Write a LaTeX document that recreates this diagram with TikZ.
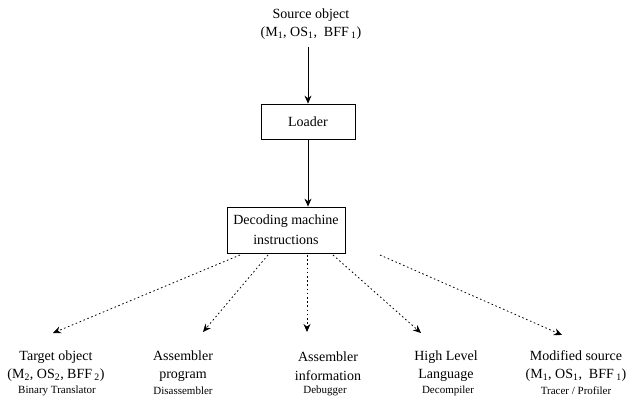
\documentclass[tikz,border=0pt]{standalone}
\usepackage{fontspec}
\setmainfont{Liberation Serif}
\usetikzlibrary{arrows.meta}
\begin{document}
\begin{tikzpicture}[x=1pt,y=-1pt,
  lbl/.style={inner sep=0pt,align=center,font=\fontsize{14}{18.5}\selectfont},
  tool/.style={inner sep=0pt,align=center,font=\fontsize{11}{12}\selectfont},
  boxnode/.style={draw,line width=0.8pt,inner sep=0pt,align=center,font=\fontsize{14}{20}\selectfont},
  solidarrow/.style={line width=0.8pt,-{Stealth[length=8pt,width=7pt]}},
  dotarrow/.style={line width=0.8pt,dash pattern=on 1.6pt off 2.6pt,-{Stealth[length=8pt,width=7pt]}}]
\useasboundingbox (0,0) rectangle (634,403);
\fill[white] (0,0) rectangle (634,403);
% source
\node[lbl] (src) at (311,24) {Source object\\(M\textsubscript{1}, OS\textsubscript{1},\ \ BFF\,\textsubscript{1})};
\node[boxnode,minimum width=94pt,minimum height=35pt] (loader) at (308,121.5) {Loader};
\node[boxnode,minimum width=118pt,minimum height=46pt] (dec) at (286,230) {Decoding machine\\instructions};
\coordinate (s0) at (308,47);
\draw[solidarrow] (s0) -- (loader.north -| s0);
\draw[solidarrow] (loader.south -| s0) -- (dec.north -| s0);
% bottom labels
\node[lbl] (t1) at (56,366) {Target object\\(M\textsubscript{2}, OS\textsubscript{2}, BFF\,\textsubscript{2})};
\node[tool] (u1) at (57,391) {Binary Translator};
\node[lbl] (t2) at (183,366) {Assembler\\program};
\node[tool] (u2) at (183,391) {Disassembler};
\node[lbl] (t3) at (328,366) {Assembler\\information};
\node[tool] (u3) at (325,391) {Debugger};
\node[lbl] (t4) at (446,366) {High Level\\Language};
\node[tool] (u4) at (448,391) {Decompiler};
\node[lbl] (t5) at (576,366) {Modified source\\(M\textsubscript{1}, OS\textsubscript{1},\ \ BFF\,\textsubscript{1})};
\node[tool] (u5) at (576,391) {Tracer / Profiler};
% dotted arrows
\coordinate (a1) at (240,255); \coordinate (e1) at (53,333);
\coordinate (a2) at (268,255); \coordinate (e2) at (203,332);
\coordinate (a3) at (307,255); \coordinate (e3) at (307,332);
\coordinate (a4) at (333,255); \coordinate (e4) at (421,333);
\coordinate (a5) at (380,255); \coordinate (e5) at (562,335);
\draw[dotarrow] (a1) -- (e1);
\draw[dotarrow] (a2) -- (e2);
\draw[dotarrow] (a3) -- (e3);
\draw[dotarrow] (a4) -- (e4);
\draw[dotarrow] (a5) -- (e5);
\end{tikzpicture}
\end{document}
